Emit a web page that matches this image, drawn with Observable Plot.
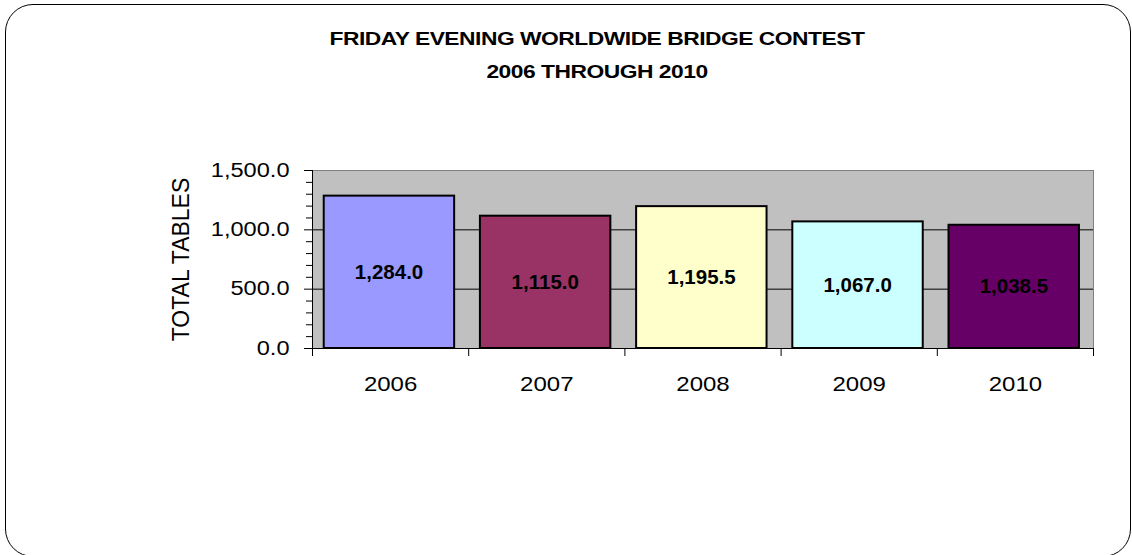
<!DOCTYPE html>
<html><head><meta charset="utf-8">
<script src="https://cdn.jsdelivr.net/npm/d3@7"></script>
<script src="https://cdn.jsdelivr.net/npm/@observablehq/plot@0.6"></script>
<style>
body{margin:0;background:#fff;}
#wrap{position:relative;width:1132px;height:555px;overflow:hidden;font-family:"Liberation Sans",Arial,sans-serif;background:#fff;}
#border{position:absolute;left:5px;top:4px;width:1126px;height:553px;border:1.5px solid #000;border-radius:28px;box-sizing:border-box;}
.title{position:absolute;left:597px;white-space:nowrap;font-weight:bold;font-size:19px;line-height:19px;letter-spacing:-0.4px;color:#000;transform:translateX(-50%) scaleX(1.2);}
#chart{position:absolute;left:0;top:0;}
</style></head>
<body>
<div id="wrap">
  <div id="border"></div>
  <div class="title" style="top:29px">FRIDAY EVENING WORLDWIDE BRIDGE CONTEST</div>
  <div class="title" style="top:62px">2006 THROUGH 2010</div>
  <div id="chart"></div>
</div>
<script>
const years = ["2006", "2007", "2008", "2009", "2010"];
const totals = [1284.0, 1115.0, 1195.5, 1067.0, 1038.5];
const barColors = ["#9999FF", "#993366", "#FFFFCC", "#CCFFFF", "#660066"];
const yTicks = [0, 500, 1000, 1500];
const yMinorTicks = [100, 200, 300, 400, 600, 700, 800, 900, 1100, 1200, 1300, 1400];
const gridValues = [500, 1000];
const yLabel = "TOTAL TABLES";

const data = years.map((y, i) => ({year: y, i, value: totals[i], color: barColors[i]}));
const fmt = d3.format(",.1f");
const centers = years.map((_, i) => i + 0.5);
const bounds = [0, ...years.map((_, i) => i + 1)];

const chart = Plot.plot({
  width: 1132, height: 555,
  marginTop: 170, marginBottom: 207, marginLeft: 312, marginRight: 39,
  style: {fontFamily: "'Liberation Sans', Arial, sans-serif", background: "transparent", color: "#000"},
  x: {domain: [0, years.length], axis: null},
  y: {domain: [0, 1500], axis: null},
  color: {type: "identity"},
  marks: [
    Plot.frame({fill: "#C0C0C0", stroke: "#808080"}),
    Plot.ruleY(gridValues, {stroke: "#000", strokeWidth: 1}),
    Plot.rectY(data, {x1: d => d.i + 0.075, x2: d => d.i + 0.91, y: "value", fill: "color", stroke: "#000", strokeWidth: 2}),
    Plot.text(data, {x: d => d.i + 0.49, y: d => d.value / 2, text: d => fmt(d.value), fontSize: 20.5, fontWeight: "bold", fill: "#000"}),
    Plot.ruleY([0], {stroke: "#000", strokeWidth: 1}),
    Plot.ruleX([0], {stroke: "#000", strokeWidth: 1}),
    Plot.axisY(yTicks, {anchor: "left", tickSize: 8, tickPadding: 15, tickFormat: fmt, fontSize: 19.5, label: null, stroke: "#000"}),
    Plot.axisY(yMinorTicks, {anchor: "left", tickSize: 6, tickFormat: () => "", label: null, stroke: "#000"}),
    Plot.axisX(bounds, {anchor: "bottom", tickSize: 8, tickFormat: () => "", label: null, stroke: "#000"}),
    Plot.axisX(centers, {anchor: "bottom", tickSize: 0, tickPadding: 28, tickFormat: v => years[Math.floor(v)], fontSize: 20, label: null}),
    Plot.text([yLabel], {frameAnchor: "left", textAnchor: "middle", rotate: -90, dx: -131, fontSize: 23, fill: "#000"})
  ]
});
document.getElementById("chart").appendChild(chart);

function stretch(sel, s) {
  chart.querySelectorAll(sel).forEach(t => {
    const tr = t.getAttribute("transform") || "";
    t.setAttribute("transform", tr + ` scale(${s},1)`);
  });
}
stretch('g[aria-label="y-axis tick label"] text', 1.21);
stretch('g[aria-label="x-axis tick label"] text', 1.2);
</script>
</body></html>
